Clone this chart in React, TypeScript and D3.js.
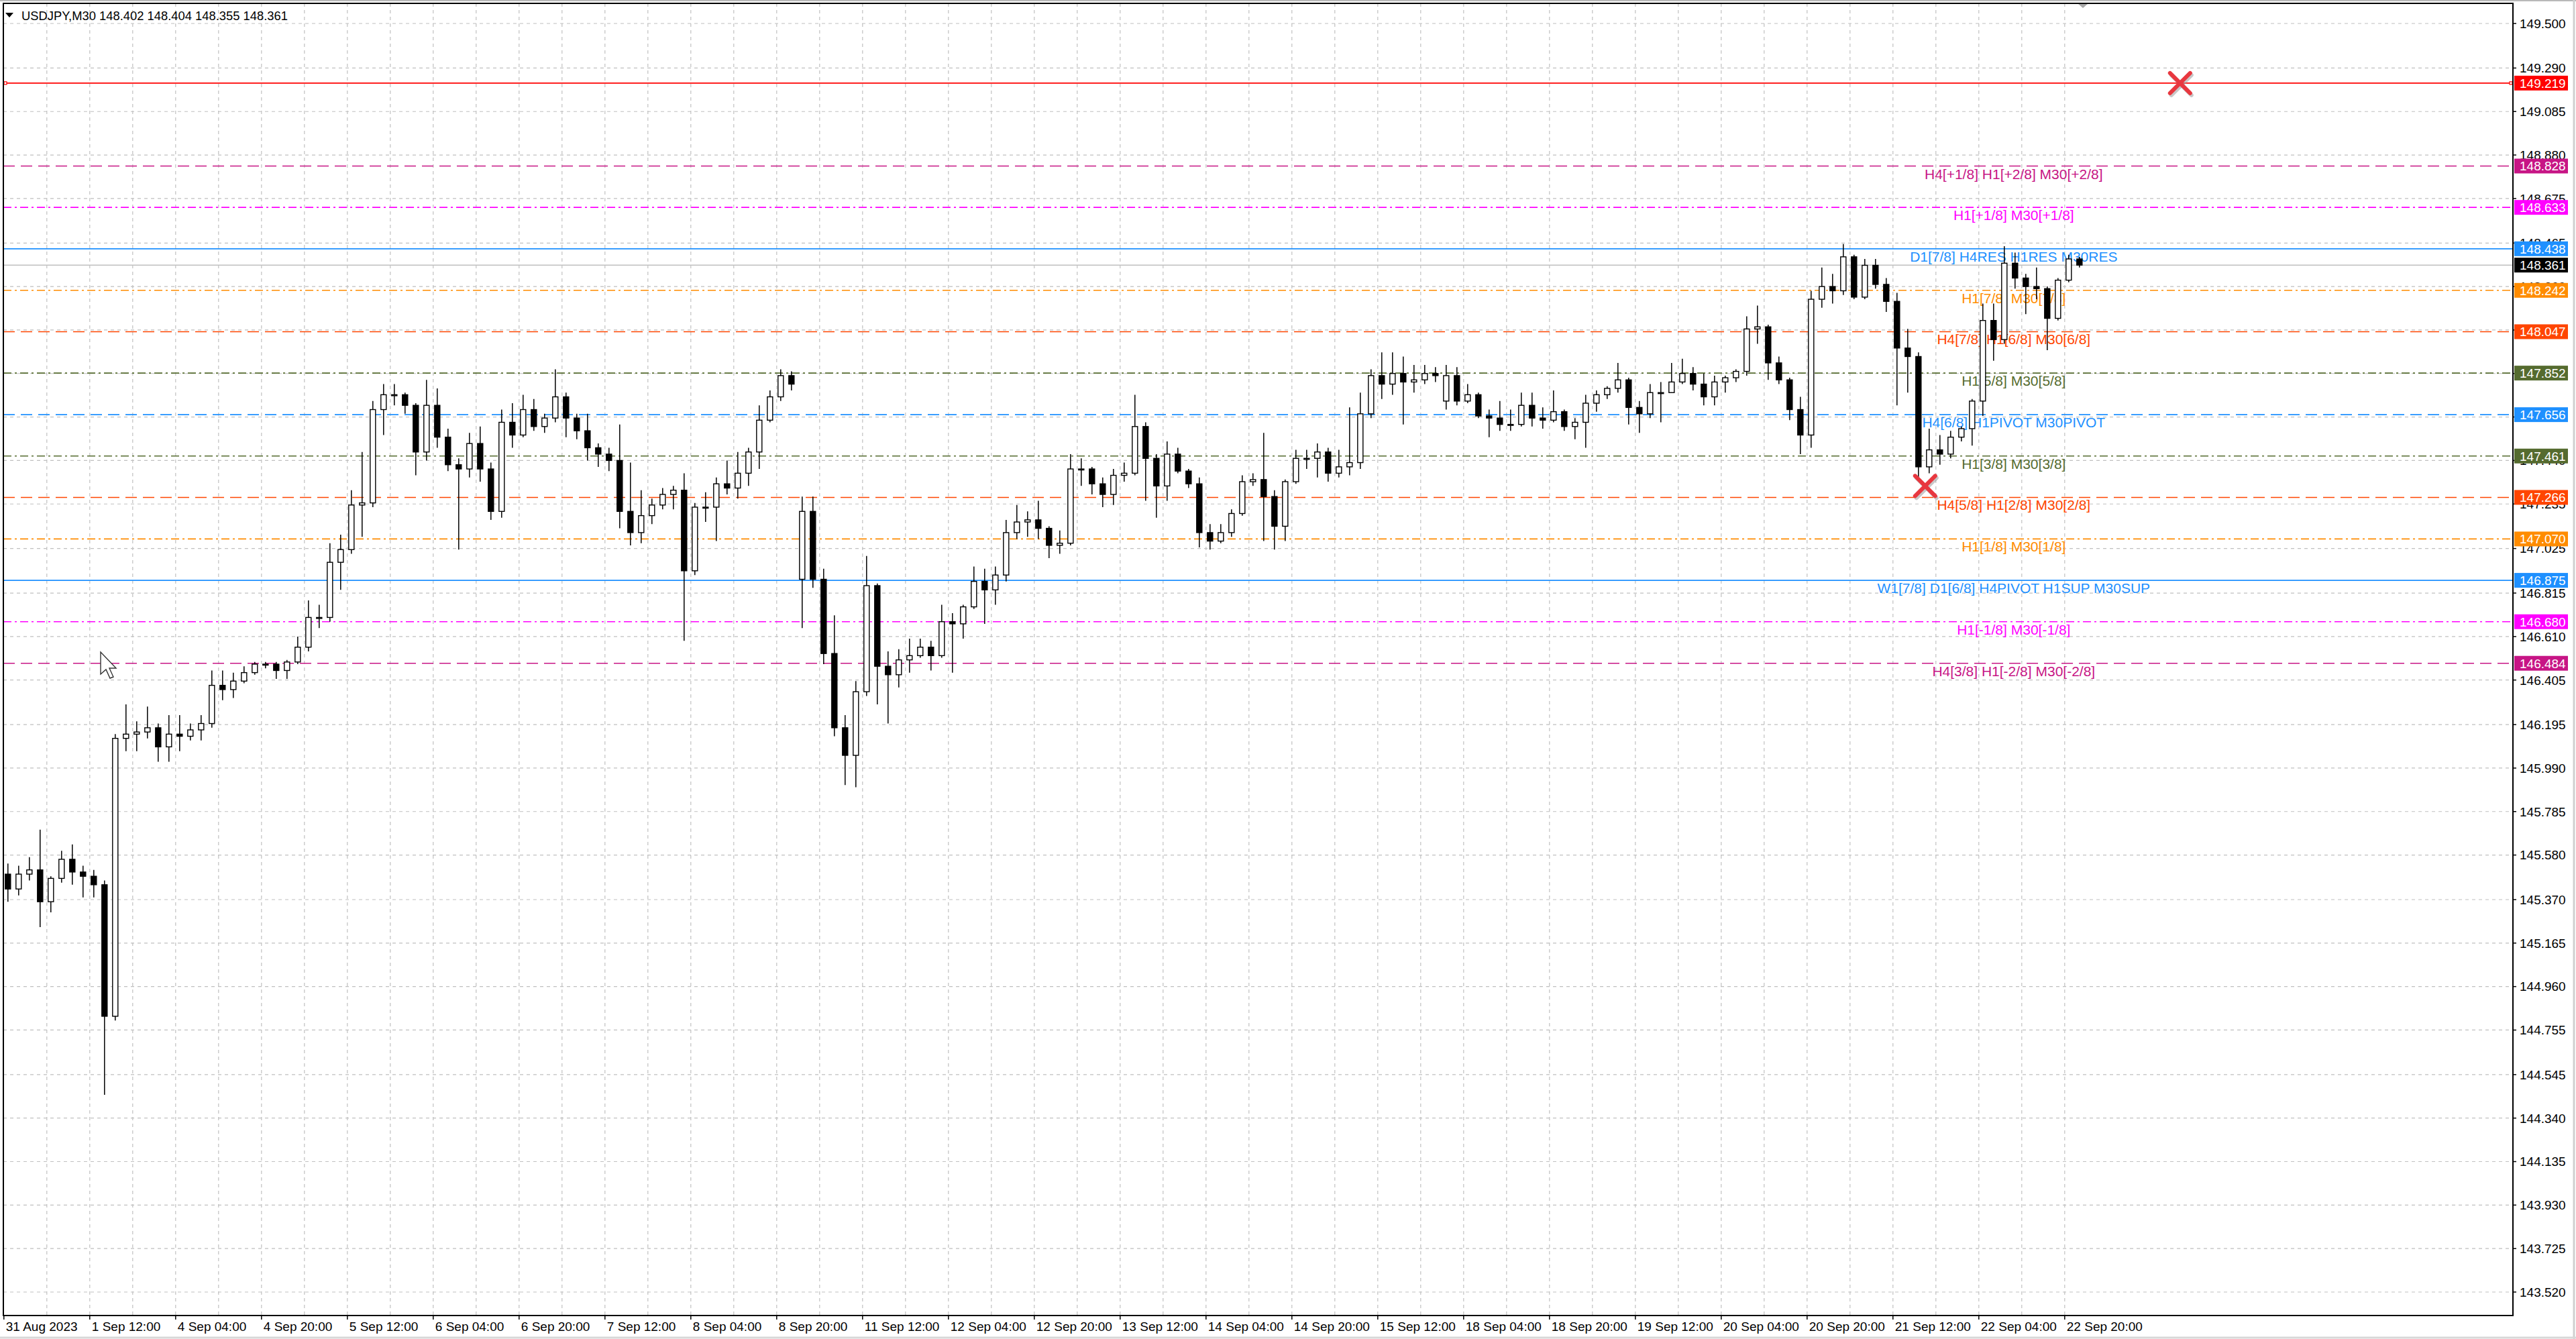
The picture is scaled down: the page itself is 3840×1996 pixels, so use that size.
import { useMemo } from 'react';
import * as d3 from 'd3';

const WIDTH = 3840;
const HEIGHT = 1996;
const FRAME = { left: 5, top: 5, right: 3746, bottom: 1961 };
const BAR_W = 4; // px per M30 bar
const BAR0_X = 5.8;
const TOTAL_BARS = 776;
const BARS_PER_CANDLE = 4; // candles are drawn as 2-hour blocks
const FONT = 'Liberation Sans, Arial, sans-serif';

const symbolTitle = 'USDJPY,M30  148.402 148.404 148.355 148.361';
const bidPrice = 148.361;

const priceTicks = [
  149.5, 149.29, 149.085, 148.88, 148.675, 148.465, 148.26, 148.055, 147.85, 147.645,
  147.44, 147.235, 147.025, 146.815, 146.61, 146.405, 146.195, 145.99, 145.785, 145.58,
  145.37, 145.165, 144.96, 144.755, 144.545, 144.34, 144.135, 143.93, 143.725, 143.52,
];

const timeLabels = [
  '31 Aug 2023', '1 Sep 12:00', '4 Sep 04:00', '4 Sep 20:00', '5 Sep 12:00', '6 Sep 04:00',
  '6 Sep 20:00', '7 Sep 12:00', '8 Sep 04:00', '8 Sep 20:00', '11 Sep 12:00', '12 Sep 04:00',
  '12 Sep 20:00', '13 Sep 12:00', '14 Sep 04:00', '14 Sep 20:00', '15 Sep 12:00', '18 Sep 04:00',
  '18 Sep 20:00', '19 Sep 12:00', '20 Sep 04:00', '20 Sep 20:00', '21 Sep 12:00', '22 Sep 04:00',
  '22 Sep 20:00',
];

// OHLC per 2-hour block
const barOpen = [
  145.49, 145.42, 145.49, 145.51, 145.36, 145.47, 145.56, 145.50, 145.48, 145.44,
  144.82, 146.13, 146.15, 146.16, 146.18, 146.09, 146.15, 146.14, 146.17, 146.20,
  146.38, 146.36, 146.40, 146.44, 146.48, 146.48, 146.45, 146.49, 146.56, 146.70,
  146.70, 146.96, 147.02, 147.23, 147.24, 147.68, 147.75, 147.75, 147.70, 147.48,
  147.70, 147.55, 147.42, 147.40, 147.52, 147.40, 147.20, 147.62, 147.56, 147.68,
  147.60, 147.64, 147.74, 147.64, 147.58, 147.50, 147.47, 147.44, 147.20, 147.10,
  147.18, 147.23, 147.28, 147.30, 146.92, 147.22, 147.22, 147.33, 147.31, 147.38,
  147.48, 147.63, 147.74, 147.84, 146.88, 147.20, 146.88, 146.53, 146.18, 146.05,
  146.35, 146.85, 146.47, 146.43, 146.50, 146.52, 146.56, 146.52, 146.68, 146.67,
  146.75, 146.87, 146.83, 146.90, 147.10, 147.15, 147.16, 147.12, 147.04, 147.05,
  147.40, 147.40, 147.33, 147.28, 147.37, 147.38, 147.60, 147.45, 147.32, 147.47,
  147.39, 147.33, 147.10, 147.06, 147.10, 147.19, 147.34, 147.35, 147.27, 147.13,
  147.34, 147.45, 147.45, 147.48, 147.38, 147.41, 147.43, 147.66, 147.84, 147.80,
  147.85, 147.81, 147.82, 147.85, 147.72, 147.84, 147.72, 147.75, 147.65, 147.64,
  147.61, 147.61, 147.70, 147.64, 147.63, 147.67, 147.60, 147.62, 147.71, 147.75,
  147.78, 147.82, 147.69, 147.66, 147.76, 147.76, 147.81, 147.85, 147.80, 147.74,
  147.81, 147.83, 147.86, 148.06, 148.07, 147.90, 147.82, 147.68, 147.56, 148.20,
  148.26, 148.24, 148.40, 148.21, 148.36, 148.27, 148.19, 147.97, 147.93, 147.41,
  147.49, 147.47, 147.55, 147.59, 147.72, 148.10, 148.01, 148.37, 148.30, 148.26,
  148.25, 148.11, 148.29, 148.39,
];

const barHigh = [
  145.54, 145.53, 145.57, 145.70, 145.48, 145.60, 145.63, 145.53, 145.51, 145.46,
  146.15, 146.29, 146.21, 146.28, 146.20, 146.24, 146.24, 146.20, 146.24, 146.45,
  146.45, 146.44, 146.47, 146.49, 146.49, 146.49, 146.50, 146.61, 146.78, 146.76,
  147.05, 147.09, 147.30, 147.48, 147.72, 147.80, 147.80, 147.76, 147.71, 147.82,
  147.78, 147.59, 147.45, 147.57, 147.60, 147.43, 147.68, 147.71, 147.75, 147.73,
  147.66, 147.87, 147.76, 147.66, 147.66, 147.52, 147.50, 147.61, 147.43, 147.30,
  147.26, 147.31, 147.32, 147.38, 147.24, 147.29, 147.36, 147.44, 147.48, 147.50,
  147.70, 147.77, 147.87, 147.86, 147.27, 147.27, 146.93, 146.71, 146.24, 146.40,
  146.99, 146.86, 146.54, 146.55, 146.60, 146.60, 146.59, 146.76, 146.72, 146.76,
  146.94, 146.93, 146.94, 147.16, 147.23, 147.20, 147.25, 147.13, 147.11, 147.47,
  147.45, 147.41, 147.36, 147.40, 147.43, 147.75, 147.62, 147.47, 147.53, 147.50,
  147.40, 147.36, 147.14, 147.14, 147.21, 147.37, 147.38, 147.57, 147.30, 147.35,
  147.49, 147.49, 147.52, 147.50, 147.49, 147.69, 147.76, 147.87, 147.95, 147.95,
  147.93, 147.89, 147.89, 147.88, 147.89, 147.88, 147.80, 147.76, 147.68, 147.72,
  147.68, 147.76, 147.76, 147.69, 147.77, 147.68, 147.64, 147.75, 147.77, 147.79,
  147.90, 147.83, 147.72, 147.80, 147.81, 147.90, 147.92, 147.88, 147.85, 147.84,
  147.84, 147.87, 148.12, 148.17, 148.08, 147.93, 147.83, 147.74, 148.24, 148.35,
  148.32, 148.46, 148.41, 148.39, 148.39, 148.30, 148.23, 148.06, 147.95, 147.59,
  147.56, 147.58, 147.60, 147.73, 148.18, 148.18, 148.45, 148.42, 148.32, 148.35,
  148.26, 148.30, 148.41, 148.40,
];

const barLow = [
  145.36, 145.39, 145.46, 145.24, 145.31, 145.45, 145.44, 145.38, 145.38, 144.45,
  144.80, 146.07, 146.07, 146.13, 146.02, 146.02, 146.07, 146.12, 146.12, 146.18,
  146.31, 146.32, 146.39, 146.43, 146.46, 146.41, 146.41, 146.48, 146.54, 146.65,
  146.68, 146.83, 147.00, 147.08, 147.22, 147.56, 147.70, 147.66, 147.37, 147.44,
  147.50, 147.39, 147.02, 147.36, 147.34, 147.16, 147.17, 147.50, 147.55, 147.58,
  147.57, 147.62, 147.55, 147.54, 147.44, 147.41, 147.39, 147.12, 147.04, 147.05,
  147.14, 147.21, 147.21, 146.59, 146.90, 147.15, 147.06, 147.28, 147.26, 147.32,
  147.40, 147.62, 147.72, 147.77, 146.65, 146.84, 146.48, 146.14, 145.91, 145.90,
  146.33, 146.29, 146.20, 146.37, 146.44, 146.51, 146.45, 146.51, 146.44, 146.60,
  146.74, 146.67, 146.76, 146.87, 147.07, 147.08, 147.07, 146.98, 147.00, 147.04,
  147.32, 147.28, 147.22, 147.23, 147.34, 147.37, 147.25, 147.17, 147.25, 147.38,
  147.31, 147.03, 147.02, 147.05, 147.08, 147.18, 147.32, 147.06, 147.02, 147.06,
  147.33, 147.40, 147.36, 147.34, 147.36, 147.37, 147.40, 147.64, 147.73, 147.75,
  147.61, 147.76, 147.80, 147.81, 147.68, 147.70, 147.71, 147.64, 147.55, 147.58,
  147.58, 147.60, 147.60, 147.59, 147.62, 147.58, 147.54, 147.50, 147.67, 147.73,
  147.76, 147.61, 147.57, 147.64, 147.62, 147.76, 147.80, 147.77, 147.70, 147.70,
  147.76, 147.81, 147.84, 147.99, 147.82, 147.80, 147.63, 147.47, 147.50, 148.16,
  148.18, 148.22, 148.20, 148.20, 148.25, 148.14, 147.70, 147.76, 147.36, 147.38,
  147.42, 147.45, 147.53, 147.51, 147.65, 147.91, 147.99, 148.25, 148.13, 148.20,
  147.96, 148.10, 148.28, 148.35,
];

const barClose = [
  145.42, 145.49, 145.51, 145.36, 145.47, 145.56, 145.50, 145.48, 145.44, 144.82,
  146.13, 146.15, 146.16, 146.18, 146.09, 146.15, 146.14, 146.17, 146.20, 146.38,
  146.36, 146.40, 146.44, 146.48, 146.48, 146.45, 146.49, 146.56, 146.70, 146.70,
  146.96, 147.02, 147.23, 147.24, 147.68, 147.75, 147.75, 147.70, 147.48, 147.70,
  147.55, 147.42, 147.40, 147.52, 147.40, 147.20, 147.62, 147.56, 147.68, 147.60,
  147.64, 147.74, 147.64, 147.58, 147.50, 147.47, 147.44, 147.20, 147.10, 147.18,
  147.23, 147.28, 147.30, 146.92, 147.22, 147.22, 147.33, 147.31, 147.38, 147.48,
  147.63, 147.74, 147.84, 147.80, 147.20, 146.88, 146.53, 146.18, 146.05, 146.35,
  146.85, 146.47, 146.43, 146.50, 146.52, 146.56, 146.52, 146.68, 146.67, 146.75,
  146.87, 146.83, 146.90, 147.10, 147.15, 147.16, 147.12, 147.04, 147.05, 147.40,
  147.40, 147.33, 147.28, 147.37, 147.38, 147.60, 147.45, 147.32, 147.47, 147.39,
  147.33, 147.10, 147.06, 147.10, 147.19, 147.34, 147.35, 147.27, 147.13, 147.34,
  147.45, 147.45, 147.48, 147.38, 147.41, 147.43, 147.66, 147.84, 147.80, 147.85,
  147.81, 147.82, 147.85, 147.84, 147.84, 147.72, 147.75, 147.65, 147.64, 147.61,
  147.61, 147.70, 147.64, 147.63, 147.67, 147.60, 147.62, 147.71, 147.75, 147.78,
  147.82, 147.69, 147.66, 147.76, 147.76, 147.81, 147.85, 147.80, 147.74, 147.81,
  147.83, 147.86, 148.06, 148.07, 147.90, 147.82, 147.68, 147.56, 148.20, 148.26,
  148.24, 148.40, 148.21, 148.36, 148.27, 148.19, 147.97, 147.93, 147.41, 147.49,
  147.47, 147.55, 147.59, 147.72, 148.10, 148.01, 148.37, 148.30, 148.26, 148.25,
  148.11, 148.29, 148.39, 148.361,
];

// Murrey-math style levels drawn by the indicator
const levelPrices = [
  149.219, 148.828, 148.633, 148.438, 148.242, 148.047, 147.852,
  147.656, 147.461, 147.266, 147.07, 146.875, 146.68, 146.484,
];
const levelTexts = [
  '',
  'H4[+1/8] H1[+2/8] M30[+2/8]',
  'H1[+1/8] M30[+1/8]',
  'D1[7/8] H4RES H1RES M30RES',
  'H1[7/8] M30[7/8]',
  'H4[7/8] H1[6/8] M30[6/8]',
  'H1[5/8] M30[5/8]',
  'H4[6/8] H1PIVOT M30PIVOT',
  'H1[3/8] M30[3/8]',
  'H4[5/8] H1[2/8] M30[2/8]',
  'H1[1/8] M30[1/8]',
  'W1[7/8] D1[6/8] H4PIVOT H1SUP M30SUP',
  'H1[-1/8] M30[-1/8]',
  'H4[3/8] H1[-2/8] M30[-2/8]',
];

// cross markers (bar index, price)
const markerBars = [811, 716];
const markerPrices = [149.219, 147.32];

const SOLID = '';
const DASH = '17,9';
const DASHDOT = '12,5,3,5';
const LEVEL_STYLE = [
  { color: '#ff0000', dash: SOLID },
  { color: '#c71585', dash: DASH },
  { color: '#ff00ff', dash: DASHDOT },
  { color: '#1e90ff', dash: SOLID },
  { color: '#ff8c00', dash: DASHDOT },
  { color: '#ff4500', dash: DASH },
  { color: '#556b2f', dash: DASHDOT },
  { color: '#1e90ff', dash: DASH },
  { color: '#556b2f', dash: DASHDOT },
  { color: '#ff4500', dash: DASH },
  { color: '#ff8c00', dash: DASHDOT },
  { color: '#1e90ff', dash: SOLID },
  { color: '#ff00ff', dash: DASHDOT },
  { color: '#c71585', dash: DASH },
];
const LEVEL_LABEL_BAR = 749;

const App = () => {
  const xScale = useMemo(
    () => d3.scaleLinear().domain([0, TOTAL_BARS]).range([BAR0_X, BAR0_X + BAR_W * TOTAL_BARS]),
    []
  );
  const yScale = useMemo(
    () => d3.scaleLinear().domain([143.52, 149.5]).range([1926, 35]),
    []
  );

  const gridBars = d3.range(16, TOTAL_BARS, 16).filter((b) => xScale(b) < FRAME.right - 2);
  const bodyW = 8;

  return (
    <svg
      width={WIDTH}
      height={HEIGHT}
      style={{ position: 'absolute', left: 0, top: 0, display: 'block', background: '#fff' }}
      fontFamily={FONT}
    >
      <defs>
        <clipPath id="plotClip">
          <rect x={FRAME.left} y={FRAME.top} width={FRAME.right - FRAME.left} height={FRAME.bottom - FRAME.top} />
        </clipPath>
      </defs>
      <rect x={0} y={0} width={WIDTH} height={HEIGHT} fill="#fff" />

      {/* grid */}
      <g stroke="#c0c0c0" strokeWidth={1.2} strokeDasharray="5,5">
        {gridBars.map((b) => (
          <line key={'gv' + b} x1={xScale(b)} x2={xScale(b)} y1={FRAME.top} y2={FRAME.bottom} />
        ))}
        {priceTicks.map((p) => (
          <line key={'gh' + p} x1={FRAME.left} x2={FRAME.right} y1={yScale(p)} y2={yScale(p)} />
        ))}
      </g>

      <g clipPath="url(#plotClip)">
        {/* level lines */}
        {levelPrices.map((p, i) => (
          <line
            key={'lv' + p}
            x1={FRAME.left}
            x2={FRAME.right}
            y1={yScale(p)}
            y2={yScale(p)}
            stroke={LEVEL_STYLE[i].color}
            strokeWidth={1.6}
            strokeDasharray={LEVEL_STYLE[i].dash || undefined}
          />
        ))}
        {/* bid line */}
        <line x1={FRAME.left} x2={FRAME.right} y1={yScale(bidPrice)} y2={yScale(bidPrice)} stroke="#c0c0c0" strokeWidth={1.6} />

        {/* level captions */}
        {levelPrices.map((p, i) =>
          levelTexts[i] ? (
            <text
              key={'lt' + p}
              x={xScale(LEVEL_LABEL_BAR)}
              y={yScale(p) + 19}
              textAnchor="middle"
              fontSize={21}
              fill={LEVEL_STYLE[i].color}
            >
              {levelTexts[i]}
            </text>
          ) : null
        )}

        {/* candles */}
        {barClose.map((c, j) => {
          const o = barOpen[j];
          const cx = xScale(j * BARS_PER_CANDLE + 1.5);
          const top = yScale(Math.max(o, c));
          const bot = yScale(Math.min(o, c));
          const bull = c >= o;
          return (
            <g key={'c' + j}>
              <line x1={cx} x2={cx} y1={yScale(barHigh[j])} y2={yScale(barLow[j])} stroke="#000" strokeWidth={1.5} />
              <rect
                x={cx - bodyW / 2}
                y={top}
                width={bodyW}
                height={Math.max(bot - top, 1.5)}
                fill={bull ? '#fff' : '#000'}
                stroke="#000"
                strokeWidth={1.4}
              />
            </g>
          );
        })}

        {/* red anchor squares of the horizontal line */}
        <rect x={FRAME.left + 1} y={yScale(levelPrices[0]) - 2} width={4} height={4} fill="#fff" stroke="#ff0000" strokeWidth={1.2} />
        <rect x={FRAME.right - 5} y={yScale(levelPrices[0]) - 2} width={4} height={4} fill="#fff" stroke="#ff0000" strokeWidth={1.2} />

        {/* cross markers */}
        {markerBars.map((b, i) => {
          const mx = xScale(b);
          const my = yScale(markerPrices[i]);
          const s = 15;
          return (
            <g key={'m' + i} strokeLinecap="round">
              <g stroke="#9a9a9a" strokeOpacity={0.55} strokeWidth={6} transform="translate(2,3)">
                <line x1={mx - s} y1={my - s} x2={mx + s} y2={my + s} />
                <line x1={mx - s} y1={my + s} x2={mx + s} y2={my - s} />
              </g>
              <g stroke="#e8373f" strokeWidth={6}>
                <line x1={mx - s} y1={my - s} x2={mx + s} y2={my + s} />
                <line x1={mx - s} y1={my + s} x2={mx + s} y2={my - s} />
              </g>
            </g>
          );
        })}

        {/* mouse pointer left in the screenshot */}
        <path
          d="M150,972 L150,1005 L158,998 L164,1011 L169,1009 L163,996 L173,996 Z"
          fill="#fff"
          stroke="#333"
          strokeWidth={1.4}
        />
      </g>

      {/* chart shift marker */}
      <polygon points="3097,5 3113,5 3105,12" fill="#a8a8a8" />

      {/* frame */}
      <rect
        x={FRAME.left}
        y={FRAME.top}
        width={FRAME.right - FRAME.left}
        height={FRAME.bottom - FRAME.top}
        fill="none"
        stroke="#000"
        strokeWidth={2}
      />

      {/* window borders */}
      <line x1={0} x2={WIDTH} y1={1} y2={1} stroke="#b8b8b8" strokeWidth={2} />
      <line x1={3837} x2={3837} y1={0} y2={HEIGHT} stroke="#d0d0d0" strokeWidth={3} />
      <line x1={0} x2={WIDTH} y1={1994} y2={1994} stroke="#d8d8d8" strokeWidth={3} />

      {/* price axis */}
      {priceTicks.map((p) => (
        <g key={'pt' + p}>
          <line x1={FRAME.right} x2={FRAME.right + 5} y1={yScale(p)} y2={yScale(p)} stroke="#000" strokeWidth={1.5} />
          <text x={3756} y={yScale(p)} dy="0.36em" fontSize={19} fill="#000">
            {p.toFixed(3)}
          </text>
        </g>
      ))}

      {/* price labels of the levels */}
      {levelPrices.map((p, i) => (
        <g key={'pl' + p}>
          <rect x={3748} y={yScale(p) - 11} width={80} height={22} fill={LEVEL_STYLE[i].color} />
          <text x={3756} y={yScale(p)} dy="0.36em" fontSize={19} fill="#fff">
            {p.toFixed(3)}
          </text>
        </g>
      ))}
      <g>
        <rect x={3748} y={yScale(bidPrice) - 11} width={80} height={22} fill="#000" />
        <text x={3756} y={yScale(bidPrice)} dy="0.36em" fontSize={19} fill="#fff">
          {bidPrice.toFixed(3)}
        </text>
      </g>

      {/* time axis */}
      {timeLabels.map((t, k) => {
        const tx = xScale(k * 32);
        return (
          <g key={'tl' + k}>
            <line x1={tx} x2={tx} y1={FRAME.bottom} y2={FRAME.bottom + 6} stroke="#000" strokeWidth={1.5} />
            <text x={tx + 3} y={1984} fontSize={19} fill="#000">
              {t}
            </text>
          </g>
        );
      })}

      {/* title */}
      <polygon points="8,19 20,19 14,26" fill="#000" />
      <text x={32} y={30} fontSize={19} fill="#000" textLength={397} lengthAdjust="spacingAndGlyphs">
        {symbolTitle}
      </text>
    </svg>
  );
};

export default App;
